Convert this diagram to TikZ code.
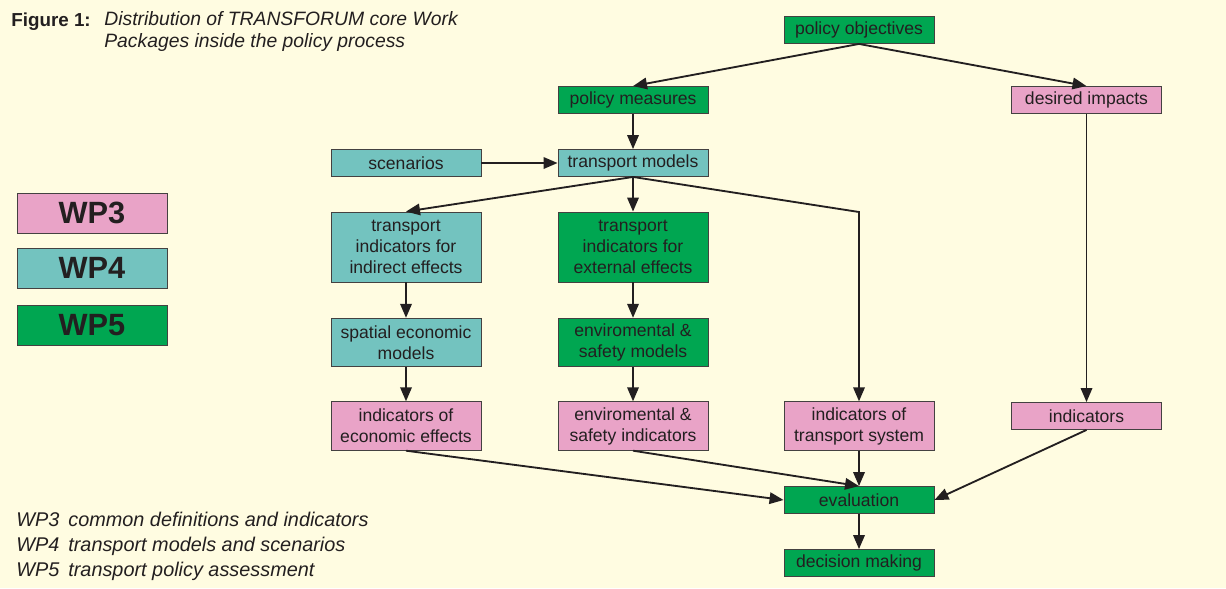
\documentclass[tikz,border=0pt]{standalone}
\usepackage{fontspec}
\setmainfont{Liberation Sans}
\usetikzlibrary{arrows.meta}
\definecolor{bgyellow}{HTML}{FFFCE1}
\definecolor{wppink}{HTML}{E9A3C7}
\definecolor{wpteal}{HTML}{73C3BF}
\definecolor{wpgreen}{HTML}{00A651}
\definecolor{inkgray}{HTML}{231F20}

\begin{document}
\begin{tikzpicture}[x=0.2mm, y=-0.2mm,
    box/.style={rectangle, draw=inkgray!85, line width=0.5pt, minimum width=30mm, minimum height=5.4mm,
        inner sep=1pt, align=center, text=inkgray, font=\fontsize{10}{12}\selectfont},
    pinkbox/.style={box, fill=wppink},
    tealbox/.style={box, fill=wpteal},
    greenbox/.style={box, fill=wpgreen},
    twoline/.style={minimum height=9.7mm},
    threeline/.style={minimum height=14mm},
    wpbox/.style={rectangle, draw=inkgray!85, line width=0.5pt, minimum width=30mm, minimum height=8mm,
        text=inkgray, font=\fontsize{17.5}{17.5}\selectfont\bfseries},
    flow/.style={-{Triangle[length=2.8mm,width=2.3mm]}, line width=1.05pt, draw=inkgray}
]
    \fill[bgyellow] (0,0) rectangle (1226,588);
    \useasboundingbox (0,0) rectangle (1226,588);

    % title
    \node[anchor=base west, inner sep=0pt, text=inkgray, font=\fontsize{10.7}{12}\selectfont\bfseries] (fig) at (11,26) {Figure 1:};
    \node[anchor=base west, inner sep=0pt, text=inkgray, align=left, font=\fontsize{11}{12}\selectfont\itshape] (caption) at (104,47)
        {Distribution of TRANSFORUM core Work\\Packages inside the policy process};

    % work package legend
    \node[wpbox, fill=wppink] (wp3) at (92,213) {WP3};
    \node[wpbox, fill=wpteal] (wp4) at (92,268) {WP4};
    \node[wpbox, fill=wpgreen] (wp5) at (92,325) {WP5};
    \node[anchor=base west, inner sep=0pt, text=inkgray, align=left, font=\fontsize{11.3}{14.2}\selectfont\itshape] (wpnames) at (16,576)
        {WP3\\WP4\\WP5};
    \node[anchor=base west, inner sep=0pt, text=inkgray, align=left, font=\fontsize{11.3}{14.2}\selectfont\itshape] (wptasks) at (68,576)
        {common definitions and indicators\\transport models and scenarios\\transport policy assessment};

    % policy process
    \node[greenbox] (obj) at (859,30) {policy objectives};
    \node[greenbox] (meas) at (633,100) {policy measures};
    \node[pinkbox] (desired) at (1086.5,100) {desired impacts};
    \node[tealbox] (scen) at (406,163) {scenarios};
    \node[tealbox] (models) at (633,163) {transport models};
    \node[tealbox, threeline] (indirect) at (406,247) {transport\\indicators for\\indirect effects};
    \node[greenbox, threeline] (external) at (633,247) {transport\\indicators for\\external effects};
    \node[tealbox, twoline] (spatial) at (406,342.5) {spatial economic\\models};
    \node[greenbox, twoline] (envmod) at (633,342.5) {enviromental \&\\safety models};
    \node[pinkbox, twoline] (econ) at (406,426) {indicators of\\economic effects};
    \node[pinkbox, twoline] (envind) at (633,426) {enviromental \&\\safety indicators};
    \node[pinkbox, twoline] (tsys) at (859,426) {indicators of\\transport system};
    \node[pinkbox] (ind) at (1086.5,416) {indicators};
    \node[greenbox] (eval) at (859,500) {evaluation};
    \node[greenbox] (dec) at (859,563) {decision making};
    \coordinate (bend) at (859,212);

    \draw[flow] (obj.south) -- (meas.north);
    \draw[flow] (obj.south) -- (desired.north);
    \draw[flow] (meas) -- (models);
    \draw[flow] (scen) -- (models);
    \draw[flow] (models.south) -- (indirect.north);
    \draw[flow] (models) -- (external);
    \draw[flow] (models.south) -- (bend) -- (tsys.north);
    \draw[flow] (desired) -- (ind);
    \draw[flow] (indirect) -- (spatial);
    \draw[flow] (spatial) -- (econ);
    \draw[flow] (external) -- (envmod);
    \draw[flow] (envmod) -- (envind);
    \draw[flow] (econ.south) -- (eval.west);
    \draw[flow] (envind.south) -- (eval.north);
    \draw[flow] (tsys) -- (eval);
    \draw[flow] (ind.south) -- (eval.east);
    \draw[flow] (eval) -- (dec);
\end{tikzpicture}
\end{document}
